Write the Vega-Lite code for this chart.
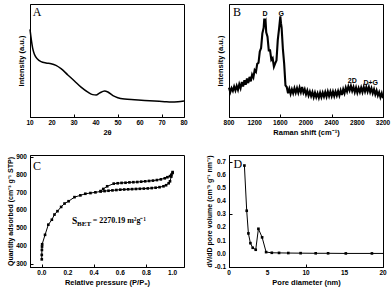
{
  "$schema": "https://vega.github.io/schema/vega-lite/v6.json",
  "padding": {"left": 6, "top": 3, "right": 2, "bottom": 2},
  "background": "white",
  "bounds": "flush",
  "columns": 2,
  "spacing": {"row": 38, "column": 45},
  "config": {
    "view": {"stroke": "black", "strokeWidth": 1},
    "axis": {
      "labels": false,
      "titleFont": "Liberation Sans", "titleFontWeight": "bold", "titleFontSize": 7.5, "titleColor": "black",
      "domainColor": "black", "tickColor": "black", "tickSize": -3, "grid": false
    },
    "axisX": {"titlePadding": 11},
    "text": {"font": "Liberation Sans", "fontWeight": "bold", "fontSize": 6.5, "color": "black"}
  },
  "datasets": {
    "xrd": [
      {"x": 10, "y": 77.6}, {"x": 11.2, "y": 61}, {"x": 12, "y": 55.5}, {"x": 13.5, "y": 51}, {"x": 15, "y": 49},
      {"x": 17.3, "y": 47.8}, {"x": 19.6, "y": 47.2}, {"x": 21.8, "y": 45.7}, {"x": 24.1, "y": 42.8}, {"x": 27.2, "y": 37.2},
      {"x": 30.2, "y": 31.9}, {"x": 33.2, "y": 26.5}, {"x": 36.3, "y": 22.1}, {"x": 38.5, "y": 19.8}, {"x": 40.1, "y": 19.5},
      {"x": 41.6, "y": 21.2}, {"x": 43.9, "y": 23.0}, {"x": 45.4, "y": 22.1}, {"x": 47.7, "y": 18.9}, {"x": 49.9, "y": 17.1},
      {"x": 53, "y": 15.9}, {"x": 57.5, "y": 15.3}, {"x": 62.1, "y": 14.7}, {"x": 66.6, "y": 14.2}, {"x": 71.2, "y": 13.6},
      {"x": 74.2, "y": 13.3}, {"x": 77.3, "y": 13.6}, {"x": 80, "y": 14.2}
    ],
    "raman": [
      {"x": 800, "y": 26}, {"x": 820, "y": 22}, {"x": 840, "y": 25.5}, {"x": 860, "y": 23}, {"x": 880, "y": 27},
      {"x": 900, "y": 23.5}, {"x": 920, "y": 27.5}, {"x": 940, "y": 24}, {"x": 960, "y": 29}, {"x": 980, "y": 25.5},
      {"x": 1000, "y": 31}, {"x": 1020, "y": 27}, {"x": 1040, "y": 32.5}, {"x": 1060, "y": 28.5}, {"x": 1080, "y": 34},
      {"x": 1100, "y": 30}, {"x": 1120, "y": 35.5}, {"x": 1140, "y": 31.5}, {"x": 1160, "y": 37.5}, {"x": 1180, "y": 35},
      {"x": 1200, "y": 41.5}, {"x": 1220, "y": 40}, {"x": 1240, "y": 47}, {"x": 1260, "y": 48}, {"x": 1280, "y": 58},
      {"x": 1300, "y": 61}, {"x": 1320, "y": 74}, {"x": 1340, "y": 79}, {"x": 1350, "y": 87}, {"x": 1360, "y": 84},
      {"x": 1370, "y": 85}, {"x": 1380, "y": 75}, {"x": 1400, "y": 71}, {"x": 1420, "y": 59}, {"x": 1440, "y": 59},
      {"x": 1460, "y": 50.5}, {"x": 1480, "y": 52}, {"x": 1500, "y": 44.5}, {"x": 1520, "y": 47.5}, {"x": 1540, "y": 50},
      {"x": 1560, "y": 68}, {"x": 1580, "y": 78}, {"x": 1600, "y": 89}, {"x": 1610, "y": 83}, {"x": 1620, "y": 79},
      {"x": 1640, "y": 60}, {"x": 1660, "y": 47}, {"x": 1680, "y": 28}, {"x": 1700, "y": 26.5}, {"x": 1720, "y": 21},
      {"x": 1740, "y": 25}, {"x": 1760, "y": 20.5}, {"x": 1780, "y": 24.5}, {"x": 1800, "y": 21}, {"x": 1820, "y": 25.5},
      {"x": 1840, "y": 21.5}, {"x": 1860, "y": 25.5}, {"x": 1880, "y": 21.5}, {"x": 1900, "y": 26}, {"x": 1920, "y": 22},
      {"x": 1940, "y": 26.5}, {"x": 1960, "y": 21.5}, {"x": 1980, "y": 24.5}, {"x": 2000, "y": 20}, {"x": 2020, "y": 23.5},
      {"x": 2040, "y": 19}, {"x": 2060, "y": 22.5}, {"x": 2080, "y": 18.5}, {"x": 2100, "y": 22}, {"x": 2120, "y": 17.5},
      {"x": 2140, "y": 21.5}, {"x": 2160, "y": 17.5}, {"x": 2180, "y": 21}, {"x": 2200, "y": 17}, {"x": 2220, "y": 21.5},
      {"x": 2240, "y": 17.5}, {"x": 2260, "y": 21.5}, {"x": 2280, "y": 18}, {"x": 2300, "y": 22}, {"x": 2320, "y": 18},
      {"x": 2340, "y": 22.5}, {"x": 2360, "y": 18.5}, {"x": 2380, "y": 22.5}, {"x": 2400, "y": 18.5}, {"x": 2420, "y": 22.5},
      {"x": 2440, "y": 18.5}, {"x": 2460, "y": 22.5}, {"x": 2480, "y": 19}, {"x": 2500, "y": 23}, {"x": 2520, "y": 19},
      {"x": 2540, "y": 23.5}, {"x": 2560, "y": 19.5}, {"x": 2580, "y": 24.5}, {"x": 2600, "y": 21}, {"x": 2620, "y": 26},
      {"x": 2640, "y": 22.5}, {"x": 2660, "y": 27}, {"x": 2680, "y": 23.5}, {"x": 2700, "y": 27.5}, {"x": 2720, "y": 23},
      {"x": 2740, "y": 26.5}, {"x": 2760, "y": 22}, {"x": 2780, "y": 26}, {"x": 2800, "y": 21.5}, {"x": 2820, "y": 25.5},
      {"x": 2840, "y": 22}, {"x": 2860, "y": 26}, {"x": 2880, "y": 22}, {"x": 2900, "y": 26.5}, {"x": 2920, "y": 22.5},
      {"x": 2940, "y": 26.5}, {"x": 2960, "y": 22.5}, {"x": 2980, "y": 26.5}, {"x": 3000, "y": 22}, {"x": 3020, "y": 25.5},
      {"x": 3040, "y": 21}, {"x": 3060, "y": 24.5}, {"x": 3080, "y": 20}, {"x": 3100, "y": 23.5}, {"x": 3120, "y": 19},
      {"x": 3140, "y": 22}, {"x": 3160, "y": 17.5}, {"x": 3180, "y": 21}, {"x": 3200, "y": 16.5}
    ],
    "iso": [
      {"b": "ads", "i": 1, "p": 0.0, "q": 324}, {"b": "ads", "i": 2, "p": 0.0, "q": 349}, {"b": "ads", "i": 3, "p": 0.001, "q": 377},
      {"b": "ads", "i": 4, "p": 0.002, "q": 396}, {"b": "ads", "i": 5, "p": 0.003, "q": 409}, {"b": "ads", "i": 6, "p": 0.025, "q": 462},
      {"b": "ads", "i": 7, "p": 0.05, "q": 519}, {"b": "ads", "i": 8, "p": 0.077, "q": 547}, {"b": "ads", "i": 9, "p": 0.097, "q": 576},
      {"b": "ads", "i": 10, "p": 0.12, "q": 595}, {"b": "ads", "i": 11, "p": 0.148, "q": 619}, {"b": "ads", "i": 12, "p": 0.174, "q": 638},
      {"b": "ads", "i": 13, "p": 0.205, "q": 651}, {"b": "ads", "i": 14, "p": 0.25, "q": 674}, {"b": "ads", "i": 15, "p": 0.295, "q": 684},
      {"b": "ads", "i": 16, "p": 0.333, "q": 693}, {"b": "ads", "i": 17, "p": 0.372, "q": 697}, {"b": "ads", "i": 18, "p": 0.41, "q": 701},
      {"b": "ads", "i": 19, "p": 0.45, "q": 706}, {"b": "ads", "i": 20, "p": 0.48, "q": 708}, {"b": "ads", "i": 21, "p": 0.51, "q": 710},
      {"b": "ads", "i": 22, "p": 0.54, "q": 712}, {"b": "ads", "i": 23, "p": 0.57, "q": 714}, {"b": "ads", "i": 24, "p": 0.6, "q": 716},
      {"b": "ads", "i": 25, "p": 0.63, "q": 717}, {"b": "ads", "i": 26, "p": 0.66, "q": 718}, {"b": "ads", "i": 27, "p": 0.69, "q": 719},
      {"b": "ads", "i": 28, "p": 0.72, "q": 720}, {"b": "ads", "i": 29, "p": 0.75, "q": 721}, {"b": "ads", "i": 30, "p": 0.78, "q": 722},
      {"b": "ads", "i": 31, "p": 0.81, "q": 723}, {"b": "ads", "i": 32, "p": 0.84, "q": 725}, {"b": "ads", "i": 33, "p": 0.87, "q": 727},
      {"b": "ads", "i": 34, "p": 0.9, "q": 730}, {"b": "ads", "i": 35, "p": 0.93, "q": 735}, {"b": "ads", "i": 36, "p": 0.95, "q": 741},
      {"b": "ads", "i": 37, "p": 0.97, "q": 752}, {"b": "ads", "i": 38, "p": 0.98, "q": 763}, {"b": "ads", "i": 39, "p": 0.99, "q": 790},
      {"b": "ads", "i": 40, "p": 1.0, "q": 810},
      {"b": "des", "i": 41, "p": 1.0, "q": 815}, {"b": "des", "i": 42, "p": 0.99, "q": 800}, {"b": "des", "i": 43, "p": 0.98, "q": 792},
      {"b": "des", "i": 44, "p": 0.96, "q": 786}, {"b": "des", "i": 45, "p": 0.94, "q": 780}, {"b": "des", "i": 46, "p": 0.91, "q": 774},
      {"b": "des", "i": 47, "p": 0.88, "q": 770}, {"b": "des", "i": 48, "p": 0.85, "q": 767}, {"b": "des", "i": 49, "p": 0.82, "q": 765},
      {"b": "des", "i": 50, "p": 0.79, "q": 763}, {"b": "des", "i": 51, "p": 0.76, "q": 761}, {"b": "des", "i": 52, "p": 0.73, "q": 759},
      {"b": "des", "i": 53, "p": 0.7, "q": 758}, {"b": "des", "i": 54, "p": 0.67, "q": 757}, {"b": "des", "i": 55, "p": 0.64, "q": 755},
      {"b": "des", "i": 56, "p": 0.61, "q": 754}, {"b": "des", "i": 57, "p": 0.58, "q": 752}, {"b": "des", "i": 58, "p": 0.55, "q": 750},
      {"b": "des", "i": 59, "p": 0.5, "q": 735}, {"b": "des", "i": 60, "p": 0.47, "q": 720}, {"b": "des", "i": 61, "p": 0.45, "q": 708}
    ],
    "pore": [
      {"d": 2.0, "v": 0.67}, {"d": 2.3, "v": 0.327}, {"d": 2.52, "v": 0.155}, {"d": 2.78, "v": 0.081}, {"d": 3.08, "v": 0.046},
      {"d": 3.47, "v": 0.031}, {"d": 3.82, "v": 0.19}, {"d": 4.3, "v": 0.125}, {"d": 4.82, "v": 0.013}, {"d": 5.56, "v": 0.008},
      {"d": 6.5, "v": 0.007}, {"d": 7.7, "v": 0.006}, {"d": 9.3, "v": 0.005}, {"d": 11.26, "v": 0.004}, {"d": 12.87, "v": 0.004},
      {"d": 15.17, "v": 0.003}, {"d": 18.56, "v": 0.003}, {"d": 20, "v": 0.003, "nop": true}
    ]
  },
  "concat": [
    {
      "width": 154, "height": 113,
      "layer": [
        {
          "data": {"name": "xrd"},
          "mark": {"type": "line", "color": "black", "strokeWidth": 1.5, "interpolate": "monotone"},
          "encoding": {
            "x": {"field": "x", "type": "quantitative", "scale": {"domain": [10, 80], "nice": false, "zero": false},
              "axis": {"title": "2θ", "values": [10, 15, 20, 25, 30, 35, 40, 45, 50, 55, 60, 65, 70, 75, 80]}},
            "y": {"field": "y", "type": "quantitative", "scale": {"domain": [0, 100], "nice": false},
              "axis": {"title": "Intensity (a.u.)", "ticks": false, "titlePadding": 5}}
          }
        },
        {
          "data": {"values": [{"v": 10, "t": "10"}, {"v": 20, "t": "20"}, {"v": 30, "t": "30"}, {"v": 40, "t": "40"}, {"v": 50, "t": "50"}, {"v": 60, "t": "60"}, {"v": 70, "t": "70"}, {"v": 80, "t": "80"}]},
          "mark": {"type": "text", "baseline": "top", "align": "center", "dy": 3},
          "encoding": {"x": {"field": "v", "type": "quantitative"}, "y": {"datum": 0, "type": "quantitative"}, "text": {"field": "t"}}
        },
        {
          "data": {"values": [{"x": 11.3, "y": 97.5, "t": "A"}]},
          "mark": {"type": "text", "font": "Liberation Serif", "fontWeight": "normal", "fontSize": 12, "align": "left", "baseline": "top", "color": "black"},
          "encoding": {"x": {"field": "x", "type": "quantitative"}, "y": {"field": "y", "type": "quantitative"}, "text": {"field": "t"}}
        }
      ]
    },
    {
      "width": 154, "height": 113,
      "layer": [
        {
          "data": {"name": "raman"},
          "mark": {"type": "line", "color": "black", "strokeWidth": 2.1},
          "encoding": {
            "x": {"field": "x", "type": "quantitative", "scale": {"domain": [800, 3200], "nice": false, "zero": false},
              "axis": {"title": "Raman shift (cm⁻¹)", "values": [800, 1000, 1200, 1400, 1600, 1800, 2000, 2200, 2400, 2600, 2800, 3000, 3200]}},
            "y": {"field": "y", "type": "quantitative", "scale": {"domain": [0, 100], "nice": false},
              "axis": {"title": "Intensity (a.u.)", "ticks": false, "titlePadding": 5}}
          }
        },
        {
          "data": {"values": [{"v": 800, "t": "800"}, {"v": 1200, "t": "1200"}, {"v": 1600, "t": "1600"}, {"v": 2000, "t": "2000"}, {"v": 2400, "t": "2400"}, {"v": 2800, "t": "2800"}, {"v": 3200, "t": "3200"}]},
          "mark": {"type": "text", "baseline": "top", "align": "center", "dy": 3},
          "encoding": {"x": {"field": "v", "type": "quantitative"}, "y": {"datum": 0, "type": "quantitative"}, "text": {"field": "t"}}
        },
        {
          "data": {"values": [{"x": 862, "y": 97.5, "t": "B"}]},
          "mark": {"type": "text", "font": "Liberation Serif", "fontWeight": "normal", "fontSize": 12, "align": "left", "baseline": "top", "color": "black"},
          "encoding": {"x": {"field": "x", "type": "quantitative"}, "y": {"field": "y", "type": "quantitative"}, "text": {"field": "t"}}
        },
        {
          "data": {"values": [{"x": 1361, "y": 91.4, "t": "D"}, {"x": 1615, "y": 91.4, "t": "G"}, {"x": 2722, "y": 31.5, "t": "2D"}, {"x": 3008, "y": 30.5, "t": "D+G"}]},
          "mark": {"type": "text", "fontSize": 7, "align": "center", "baseline": "middle"},
          "encoding": {"x": {"field": "x", "type": "quantitative"}, "y": {"field": "y", "type": "quantitative"}, "text": {"field": "t"}}
        }
      ]
    },
    {
      "width": 154, "height": 112,
      "layer": [
        {
          "data": {"name": "iso"},
          "mark": {"type": "line", "color": "black", "strokeWidth": 1, "point": {"shape": "square", "size": 7, "filled": true, "color": "black"}},
          "encoding": {
            "x": {"field": "p", "type": "quantitative", "scale": {"domain": [-0.09, 1.087], "nice": false, "zero": false},
              "axis": {"title": "Relative pressure (P/P₀)", "values": [0, 0.1, 0.2, 0.3, 0.4, 0.5, 0.6, 0.7, 0.8, 0.9, 1.0]}},
            "y": {"field": "q", "type": "quantitative", "scale": {"domain": [281, 911], "nice": false, "zero": false},
              "axis": {"title": "Quantity adsorbed (cm⁻³ g⁻¹ STP)", "titleFontSize": 7, "titlePadding": 16, "values": [300, 400, 500, 600, 700, 800, 900]}},
            "detail": {"field": "b"},
            "order": {"field": "i", "type": "quantitative"}
          }
        },
        {
          "data": {"values": [{"v": 0, "t": "0.0"}, {"v": 0.2, "t": "0.2"}, {"v": 0.4, "t": "0.4"}, {"v": 0.6, "t": "0.6"}, {"v": 0.8, "t": "0.8"}, {"v": 1.0, "t": "1.0"}]},
          "mark": {"type": "text", "baseline": "top", "align": "center", "dy": 3},
          "encoding": {"x": {"field": "v", "type": "quantitative"}, "y": {"datum": 281, "type": "quantitative"}, "text": {"field": "t"}}
        },
        {
          "data": {"values": [{"v": 300, "t": "300"}, {"v": 400, "t": "400"}, {"v": 500, "t": "500"}, {"v": 600, "t": "600"}, {"v": 700, "t": "700"}, {"v": 800, "t": "800"}, {"v": 900, "t": "900"}]},
          "mark": {"type": "text", "baseline": "middle", "align": "right", "dx": -3},
          "encoding": {"y": {"field": "v", "type": "quantitative"}, "x": {"datum": -0.09, "type": "quantitative"}, "text": {"field": "t"}}
        },
        {
          "data": {"values": [{"x": -0.067, "y": 876, "t": "C"}]},
          "mark": {"type": "text", "font": "Liberation Serif", "fontWeight": "normal", "fontSize": 12, "align": "left", "baseline": "top", "color": "black"},
          "encoding": {"x": {"field": "x", "type": "quantitative"}, "y": {"field": "y", "type": "quantitative"}, "text": {"field": "t"}}
        },
        {
          "data": {"values": [{"x": 0.231, "y": 540, "t": "S"}]},
          "mark": {"type": "text", "font": "Liberation Serif", "fontWeight": "bold", "fontSize": 9.5, "align": "left", "baseline": "middle", "color": "black"},
          "encoding": {"x": {"field": "x", "type": "quantitative"}, "y": {"field": "y", "type": "quantitative"}, "text": {"field": "t"}}
        },
        {
          "data": {"values": [{"x": 0.27, "y": 524, "t": "BET"}]},
          "mark": {"type": "text", "font": "Liberation Serif", "fontWeight": "bold", "fontSize": 7, "align": "left", "baseline": "middle", "color": "black"},
          "encoding": {"x": {"field": "x", "type": "quantitative"}, "y": {"field": "y", "type": "quantitative"}, "text": {"field": "t"}}
        },
        {
          "data": {"values": [{"x": 0.39, "y": 538, "t": "= 2270.19 m²g⁻¹"}]},
          "mark": {"type": "text", "font": "Liberation Serif", "fontWeight": "bold", "fontSize": 8, "align": "left", "baseline": "middle", "color": "black"},
          "encoding": {"x": {"field": "x", "type": "quantitative"}, "y": {"field": "y", "type": "quantitative"}, "text": {"field": "t"}}
        }
      ]
    },
    {
      "width": 154, "height": 112,
      "layer": [
        {
          "data": {"name": "pore"},
          "mark": {"type": "line", "color": "black", "strokeWidth": 1},
          "encoding": {
            "x": {"field": "d", "type": "quantitative", "scale": {"domain": [0, 20], "nice": false, "zero": false},
              "axis": {"title": "Pore diameter (nm)", "values": [0, 2.5, 5, 7.5, 10, 12.5, 15, 17.5, 20]}},
            "y": {"field": "v", "type": "quantitative", "scale": {"domain": [-0.1, 0.75], "nice": false, "zero": false},
              "axis": {"title": "dV/dD pore volume (cm⁻³ g⁻¹ nm⁻¹)", "titleFontSize": 7, "titlePadding": 16, "values": [-0.1, 0, 0.1, 0.2, 0.3, 0.4, 0.5, 0.6, 0.7]}}
          }
        },
        {
          "data": {"name": "pore"},
          "transform": [{"filter": "!datum.nop"}],
          "mark": {"type": "point", "shape": "square", "size": 7, "filled": true, "color": "black", "opacity": 1},
          "encoding": {
            "x": {"field": "d", "type": "quantitative"},
            "y": {"field": "v", "type": "quantitative"}
          }
        },
        {
          "data": {"values": [{"v": 0, "t": "0"}, {"v": 5, "t": "5"}, {"v": 10, "t": "10"}, {"v": 15, "t": "15"}, {"v": 20, "t": "20"}]},
          "mark": {"type": "text", "baseline": "top", "align": "center", "dy": 3},
          "encoding": {"x": {"field": "v", "type": "quantitative"}, "y": {"datum": -0.1, "type": "quantitative"}, "text": {"field": "t"}}
        },
        {
          "data": {"values": [{"v": -0.1, "t": "-0.1"}, {"v": 0, "t": "0.0"}, {"v": 0.1, "t": "0.1"}, {"v": 0.2, "t": "0.2"}, {"v": 0.3, "t": "0.3"}, {"v": 0.4, "t": "0.4"}, {"v": 0.5, "t": "0.5"}, {"v": 0.6, "t": "0.6"}, {"v": 0.7, "t": "0.7"}]},
          "mark": {"type": "text", "baseline": "middle", "align": "right", "dx": -3},
          "encoding": {"y": {"field": "v", "type": "quantitative"}, "x": {"datum": 0, "type": "quantitative"}, "text": {"field": "t"}}
        },
        {
          "data": {"values": [{"x": 0.6, "y": 0.72, "t": "D"}]},
          "mark": {"type": "text", "font": "Liberation Serif", "fontWeight": "normal", "fontSize": 12, "align": "left", "baseline": "top", "color": "black"},
          "encoding": {"x": {"field": "x", "type": "quantitative"}, "y": {"field": "y", "type": "quantitative"}, "text": {"field": "t"}}
        }
      ]
    }
  ]
}
